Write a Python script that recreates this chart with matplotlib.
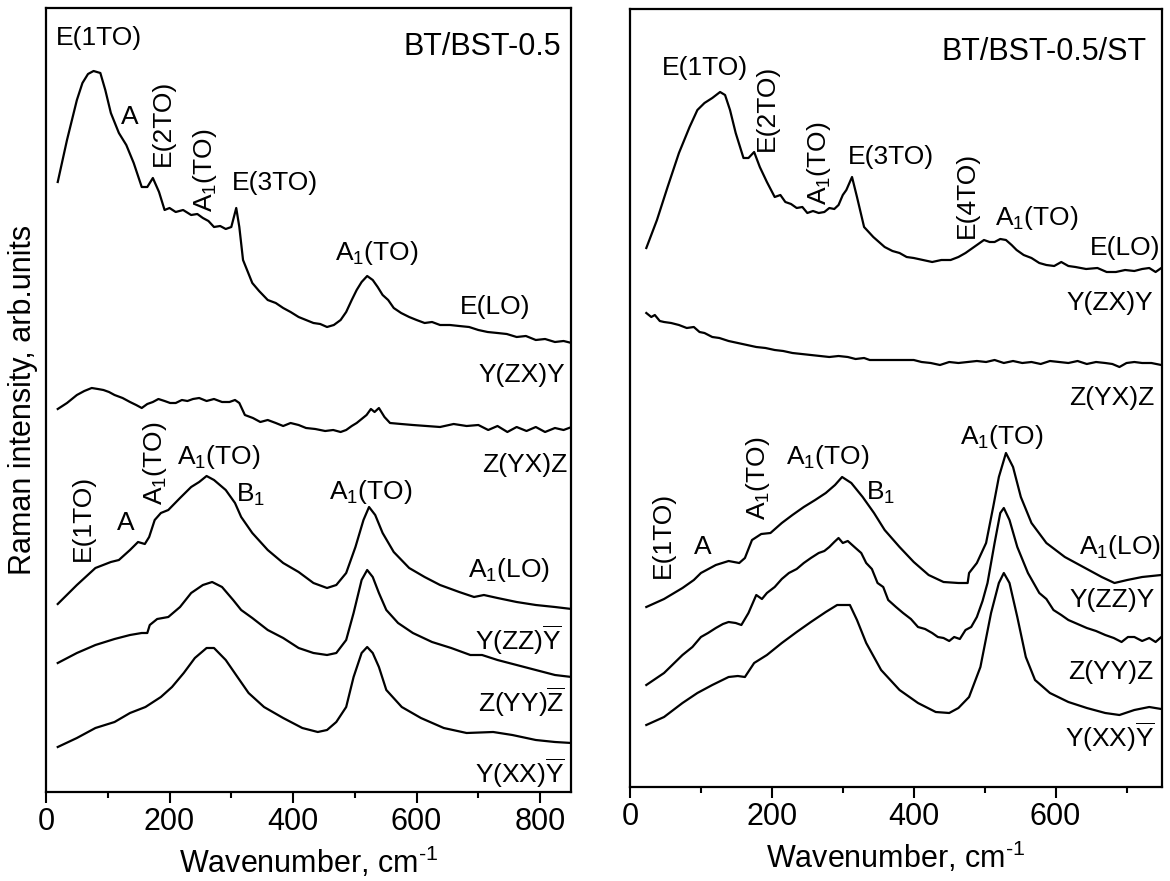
import numpy as np
import matplotlib.pyplot as plt

plt.rcParams['font.family'] = ['Liberation Sans', 'DejaVu Sans']
plt.rcParams['mathtext.fontset'] = 'custom'
plt.rcParams['mathtext.rm'] = 'Liberation Sans'
plt.rcParams['mathtext.it'] = 'Liberation Sans:italic'
plt.rcParams['mathtext.bf'] = 'Liberation Sans:bold'

# ---- BT/BST-0.5 (left panel), intensity in arb. units
l_zx_x = [19, 34, 50, 59, 68, 77, 88, 96, 105, 118, 130, 142, 155, 164, 173, 183, 192, 200, 210, 222, 235,
          245, 254, 263, 272, 282, 291, 300, 308, 313, 319, 334, 345, 359, 372, 384, 396, 409, 421, 433,
          444, 455, 466, 477, 486, 495, 503, 511, 520, 529, 537, 545, 554, 563, 575, 588, 600, 613, 625,
          638, 654, 669, 685, 700, 715, 731, 746, 762, 777, 793, 808, 824, 838, 851]
l_zx_y = [610, 652, 692, 709, 718, 721, 719, 702, 679, 659, 647, 629, 605, 605, 614, 600, 582, 584, 580, 582,
          577, 578, 574, 571, 565, 566, 563, 565, 584, 565, 532, 509, 501, 492, 489, 484, 480, 475, 472, 469,
          468, 465, 467, 472, 480, 492, 502, 510, 516, 512, 505, 497, 492, 484, 479, 475, 472, 469, 470,
          467, 467, 466, 465, 462, 460, 459, 458, 455, 456, 452, 453, 450, 451, 449]

l_yx_x = [19, 34, 50, 62, 74, 84, 93, 102, 111, 124, 136, 146, 155, 164, 173, 182, 192, 201, 210, 220, 229,
          238, 248, 260, 272, 285, 297, 306, 313, 322, 335, 347, 359, 372, 384, 396, 409, 421, 436, 452,
          465, 477, 486, 495, 503, 511, 519, 526, 532, 539, 548, 557, 575, 594, 616, 638, 660, 681, 700,
          716, 731, 747, 762, 778, 793, 808, 824, 838, 851]
l_yx_y = [383, 389, 397, 401, 404, 403, 402, 400, 397, 394, 390, 387, 384, 388, 390, 393, 391, 389, 389, 392,
          391, 393, 394, 391, 393, 390, 390, 392, 389, 377, 374, 370, 372, 369, 366, 369, 367, 364, 363, 361,
          362, 360, 362, 366, 369, 373, 377, 383, 380, 384, 375, 369, 368, 367, 366, 365, 368, 366, 367,
          362, 366, 360, 365, 361, 365, 360, 364, 362, 365]

l_zz_x = [19, 50, 80, 105, 118, 136, 149, 160, 167, 176, 186, 198, 217, 235, 248, 260, 272, 291, 306, 316,
          334, 359, 384, 409, 433, 455, 470, 486, 501, 514, 523, 533, 545, 563, 588, 613, 638, 669, 693,
          709, 731, 762, 793, 824, 851]
l_zz_y = [188, 207, 224, 230, 232, 242, 250, 248, 255, 272, 279, 282, 294, 305, 310, 316, 312, 302, 289, 275,
          259, 242, 229, 220, 209, 204, 207, 219, 245, 272, 285, 277, 259, 240, 224, 215, 207, 200, 195,
          197, 194, 190, 187, 185, 183]

l_yy_x = [19, 50, 80, 111, 136, 155, 164, 168, 180, 198, 217, 235, 254, 269, 285, 303, 316, 334, 359, 384,
          409, 433, 455, 470, 486, 498, 511, 520, 529, 539, 551, 570, 594, 625, 656, 687, 706, 731, 762,
          793, 824, 851]
l_yy_y = [129, 139, 147, 153, 157, 159, 159, 167, 173, 175, 185, 199, 207, 210, 205, 192, 182, 174, 162, 154,
          144, 139, 137, 139, 152, 179, 212, 222, 215, 199, 182, 169, 159, 150, 144, 137, 137, 132, 127,
          122, 117, 115]

l_xx_x = [19, 50, 80, 111, 136, 161, 186, 204, 223, 241, 260, 272, 291, 310, 328, 353, 384, 415, 440, 455,
          470, 486, 498, 511, 520, 529, 539, 551, 576, 607, 644, 681, 724, 755, 793, 824, 851]
l_xx_y = [45, 54, 64, 70, 79, 85, 95, 105, 119, 134, 144, 144, 132, 115, 99, 85, 74, 64, 60, 62,
          70, 85, 115, 139, 145, 139, 125, 102, 85, 74, 64, 59, 60, 57, 52, 50, 49]

# ---- BT/BST-0.5/ST (right panel)
r_zx_x = [23, 38, 53, 69, 84, 95, 105, 116, 127, 134, 141, 149, 160, 167, 175, 183, 193, 204, 212, 219, 227,
          235, 243, 250, 258, 266, 274, 281, 288, 294, 300, 305, 313, 320, 330, 343, 351, 359, 370, 380,
          390, 400, 413, 426, 439, 452, 463, 473, 481, 489, 499, 507, 514, 522, 530, 538, 545, 555, 566,
          577, 587, 598, 608, 618, 628, 643, 659, 672, 685, 698, 711, 722, 732, 741, 749]
r_zx_y = [539, 567, 600, 634, 660, 677, 684, 689, 695, 692, 677, 654, 629, 629, 635, 620, 605, 590, 592, 585,
          583, 579, 580, 574, 576, 574, 575, 579, 578, 582, 592, 597, 610, 590, 560, 550, 545, 540, 536, 534,
          530, 529, 527, 525, 527, 527, 530, 534, 538, 542, 547, 545, 545, 548, 547, 542, 537, 532, 529,
          524, 522, 521, 525, 521, 520, 518, 519, 515, 515, 517, 516, 518, 519, 515, 519]

r_yx_x = [23, 30, 35, 42, 48, 58, 69, 80, 90, 98, 105, 116, 126, 139, 152, 165, 178, 191, 204, 216, 229,
          242, 255, 268, 281, 294, 307, 318, 330, 338, 400, 411, 424, 437, 450, 463, 476, 489, 502, 514,
          527, 540, 553, 566, 579, 592, 605, 618, 631, 644, 657, 670, 680, 690, 700, 711, 722, 735, 749]
r_yx_y = [474, 470, 472, 466, 465, 464, 462, 459, 460, 455, 454, 450, 449, 446, 444, 442, 440, 439, 437, 436,
          434, 433, 432, 431, 430, 431, 430, 428, 429, 427, 427, 425, 424, 422, 425, 424, 425, 426, 425,
          427, 424, 426, 424, 425, 423, 426, 425, 424, 426, 423, 425, 424, 423, 420, 424, 425, 424, 424, 422]

r_zz_x = [23, 48, 74, 90, 100, 121, 139, 154, 162, 172, 185, 198, 214, 229, 245, 261, 276, 289, 299, 312,
          328, 344, 359, 380, 400, 421, 442, 463, 476, 478, 489, 502, 512, 520, 530, 540, 551, 566, 587,
          613, 639, 665, 683, 701, 722, 749]
r_zz_y = [180, 188, 199, 207, 214, 222, 226, 224, 229, 247, 253, 254, 264, 272, 280, 287, 294, 302, 310, 304,
          290, 274, 257, 240, 225, 212, 205, 204, 204, 214, 224, 244, 280, 310, 334, 320, 290, 264, 244,
          230, 220, 210, 204, 207, 210, 212]

r_yy_x = [23, 48, 74, 88, 100, 110, 121, 131, 139, 149, 157, 167, 178, 186, 193, 204, 214, 224, 235, 245,
          255, 266, 274, 281, 288, 294, 300, 307, 318, 326, 333, 341, 349, 357, 364, 375, 385, 396, 406,
          416, 426, 434, 442, 450, 457, 465, 473, 481, 489, 497, 504, 514, 522, 527, 535, 546, 561, 577,
          587, 597, 608, 618, 631, 644, 657, 670, 682, 693, 702, 711, 722, 732, 741, 749]
r_yy_y = [102, 114, 132, 140, 150, 154, 159, 163, 165, 164, 162, 174, 192, 188, 194, 200, 208, 214, 218, 224,
          229, 234, 236, 240, 245, 249, 244, 246, 239, 234, 224, 218, 204, 200, 187, 180, 174, 168, 160,
          158, 154, 150, 149, 146, 150, 148, 157, 160, 170, 186, 204, 244, 274, 279, 267, 240, 214, 194,
          188, 177, 172, 167, 163, 159, 156, 152, 149, 145, 150, 150, 146, 149, 145, 150]

r_xx_x = [23, 48, 74, 95, 116, 139, 152, 162, 175, 193, 214, 235, 255, 276, 292, 310, 320, 333, 354, 380,
          406, 431, 450, 463, 478, 494, 509, 520, 527, 535, 546, 558, 571, 592, 618, 644, 670, 690, 711,
          732, 749]
r_xx_y = [62, 70, 84, 94, 102, 110, 111, 110, 124, 132, 144, 155, 165, 175, 182, 182, 167, 144, 117, 97,
          84, 75, 74, 79, 90, 120, 174, 204, 214, 204, 170, 130, 107, 94, 85, 79, 74, 72, 77, 80, 78]

YB = r'$\overline{\mathrm{Y}}$'
ZB = r'$\overline{\mathrm{Z}}$'

# (text, x, y, rotation, ha)
left_notes = [('E(1TO)', 85, 754, 0, 'center'), ('A', 136, 675, 0, 'center'),
              ('E(2TO)', 189, 669, 90, 'center'), (r'A$_1$(TO)', 257, 622, 90, 'center'),
              ('E(3TO)', 370, 609, 0, 'center'), (r'A$_1$(TO)', 536, 539, 0, 'center'),
              ('E(LO)', 727, 485, 0, 'center'), ('Y(ZX)Y', 840, 417, 0, 'right'),
              ('Z(YX)Z', 845, 327, 0, 'right'), ('E(1TO)', 59, 274, 90, 'center'),
              ('A', 129, 269, 0, 'center'), (r'A$_1$(TO)', 176, 329, 90, 'center'),
              (r'A$_1$(TO)', 279, 335, 0, 'center'), (r'B$_1$', 331, 297, 0, 'center'),
              (r'A$_1$(TO)', 525, 300, 0, 'center'), (r'A$_1$(LO)', 749, 222, 0, 'center'),
              ('Y(ZZ)' + YB, 836, 152, 0, 'right'), ('Z(YY)' + ZB, 840, 90, 0, 'right'),
              ('Y(XX)' + YB, 840, 19, 0, 'right')]

right_notes = [('E(1TO)', 105, 719, 0, 'center'), ('E(2TO)', 193, 679, 90, 'center'),
               (r'A$_1$(TO)', 266, 624, 90, 'center'), ('E(3TO)', 368, 630, 0, 'center'),
               ('E(4TO)', 475, 592, 90, 'center'), (r'A$_1$(TO)', 574, 569, 0, 'center'),
               ('E(LO)', 748, 539, 0, 'right'), ('Y(ZX)Y', 738, 484, 0, 'right'),
               ('Z(YX)Z', 740, 389, 0, 'right'), (r'A$_1$(TO)', 524, 350, 0, 'center'),
               (r'A$_1$(TO)', 180, 309, 90, 'center'), (r'A$_1$(TO)', 279, 330, 0, 'center'),
               (r'B$_1$', 354, 294, 0, 'center'), ('E(1TO)', 46, 252, 90, 'center'),
               ('A', 103, 240, 0, 'center'), (r'A$_1$(LO)', 748, 240, 0, 'right'),
               ('Y(ZZ)Y', 740, 187, 0, 'right'), ('Z(YY)Z', 738, 115, 0, 'right'),
               ('Y(XX)' + YB, 740, 50, 0, 'right')]


def setup(ax, xmax, ymax, title, title_x, title_y):
    ax.set_xlim(0, xmax)
    ax.set_ylim(0, ymax)
    ax.set_yticks([])
    ax.set_xticks(np.arange(0, xmax + 1, 200))
    ax.set_xticks(np.arange(0, xmax + 1, 100), minor=True)
    ax.tick_params(axis='x', which='major', direction='out', length=8, width=1.5, labelsize=22, pad=3)
    ax.tick_params(axis='x', which='minor', direction='out', length=4.5, width=1.5)
    for s in ax.spines.values():
        s.set_linewidth(1.6)
    ax.set_xlabel(r'Wavenumber, cm$^{\text{-1}}$', fontsize=22, labelpad=5)
    ax.text(title_x, title_y, title, fontsize=22, ha='right', va='center')


def notes(ax, items):
    for t, x, y, rot, ha in items:
        ax.text(x, y, t, fontsize=19, rotation=rot, ha=ha, va='center')


fig = plt.figure(figsize=(11.7, 8.81), dpi=100)
ax1 = fig.add_axes([46 / 1170, 89 / 881, 525 / 1170, 784 / 881])
ax2 = fig.add_axes([630 / 1170, 94 / 881, 532 / 1170, 778 / 881])

for xs, ys in [(l_zx_x, l_zx_y), (l_yx_x, l_yx_y), (l_zz_x, l_zz_y), (l_yy_x, l_yy_y), (l_xx_x, l_xx_y)]:
    ax1.plot(xs, ys, color='black', lw=1.6)
for xs, ys in [(r_zx_x, r_zx_y), (r_yx_x, r_yx_y), (r_zz_x, r_zz_y), (r_yy_x, r_yy_y), (r_xx_x, r_xx_y)]:
    ax2.plot(xs, ys, color='black', lw=1.6)

setup(ax1, 850, 784, 'BT/BST-0.5', 834, 745)
setup(ax2, 750, 778, 'BT/BST-0.5/ST', 729, 735)
notes(ax1, left_notes)
notes(ax2, right_notes)

fig.text(23 / 1170, 1 - 400 / 881, 'Raman intensity, arb.units', rotation=90,
         fontsize=22, ha='center', va='center')

fig.savefig('out.png', dpi=100)
